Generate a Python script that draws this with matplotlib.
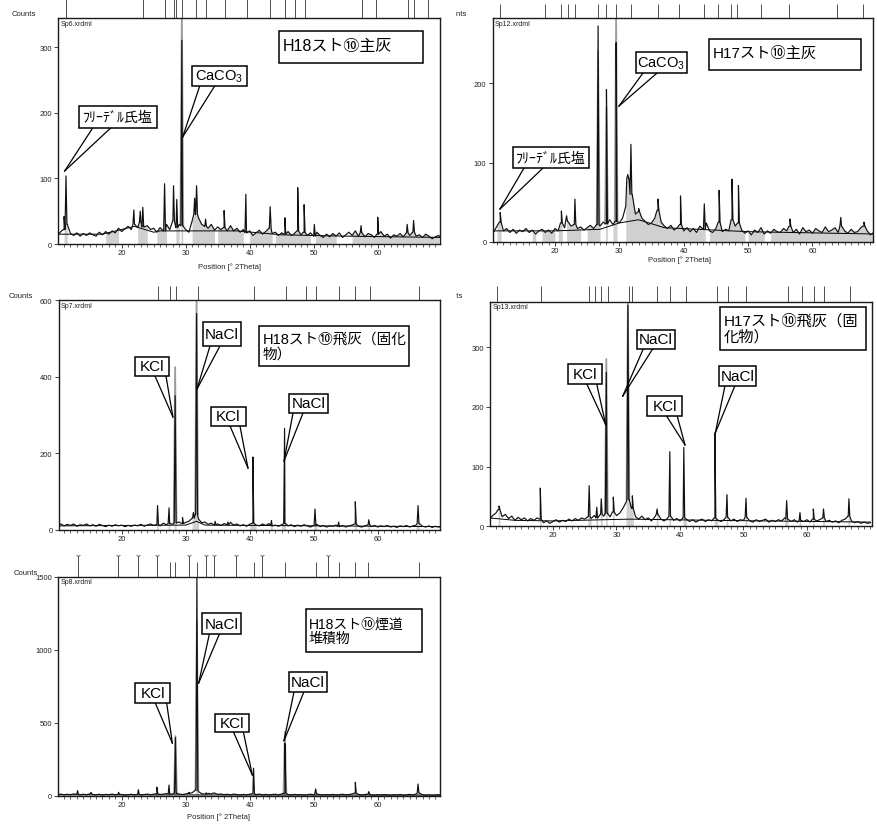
import numpy as np
import matplotlib
matplotlib.use("Agg")
import matplotlib.pyplot as plt
from matplotlib.patches import Rectangle
from matplotlib.ticker import FixedLocator, MultipleLocator
from matplotlib.transforms import Bbox

plt.rcParams["font.family"] = ["Liberation Sans", "Noto Sans CJK JP", "DejaVu Sans"]
plt.rcParams["mathtext.fontset"] = "custom"
plt.rcParams["mathtext.rm"] = "Liberation Sans"
plt.rcParams["mathtext.it"] = "Liberation Sans:italic"

# 2theta sampling of the background counts (0.5 deg steps, 10..70)
GRID = np.arange(10.0, 70.01, 0.5)

# ---------------- Sp6 : H18 main ash ----------------
P1_BG = [14, 19, 22, 30, 16, 13, 17, 12, 16, 13,
         17, 14, 12, 18, 14, 19, 15, 20, 17, 24,
         19, 23, 27, 22, 30, 25, 33, 26, 28, 22,
         24, 18, 25, 20, 30, 22, 35, 25, 30, 28,
         22, 18, 35, 45, 40, 30, 27, 24, 30, 21,
         26, 22, 25, 20, 28, 20, 24, 18, 22, 17,
         20, 13, 17, 21, 15, 19, 24, 16, 18, 13,
         17, 15, 19, 13, 16, 20, 14, 18, 13, 17,
         12, 18, 13, 10, 15, 11, 16, 12, 17, 10,
         14, 18, 13, 20, 12, 17, 11, 16, 14, 10,
         15, 19, 12, 15, 9, 14, 12, 16, 11, 17,
         13, 18, 12, 14, 10, 15, 12, 8, 11, 13,
         9]
P1_PEAK_POS = [11.0, 11.3, 21.9, 22.9, 23.3, 26.7, 28.1, 28.6, 29.4, 31.4, 31.7,
               33.1, 36.0, 39.4, 43.2, 45.5, 47.5, 48.5, 50.1, 57.4, 60.0, 64.6, 65.6]
P1_PEAK_CNT = [42, 104, 52, 50, 56, 92, 89, 68, 311, 70, 89,
               38, 51, 76, 57, 40, 86, 60, 30, 28, 41, 30, 36]
P1_FIT_POS = [29.4]
P1_FIT_CNT = [360]
P1_FILL_LO = [11.0, 16.2, 17.4, 22.3, 25.1, 28.4, 29.2, 30.9, 35.0, 39.9, 43.8, 50.2, 55.8]
P1_FILL_HI = [11.7, 16.7, 19.8, 24.3, 27.0, 29.0, 29.7, 34.8, 39.1, 43.7, 49.5, 53.5, 69.8]
P1_BASE_X = [10, 17, 22, 25, 26, 38, 45, 55, 70]
P1_BASE_Y = [15, 15, 27, 18, 20, 20, 14, 12, 10]
P1_STICKS = [11.3, 23.3, 26.8, 28.2, 28.5, 29.5, 31.6, 33.1, 36.1, 39.6, 43.2,
             45.5, 47.1, 48.6, 57.5, 59.8, 64.7, 65.6, 67.9]

# ---------------- Sp12 : H17 main ash ----------------
P2_BG = [16, 13, 20, 25, 14, 17, 12, 16, 11, 15,
         13, 17, 12, 15, 10, 14, 16, 12, 15, 11,
         17, 14, 24, 18, 26, 20, 22, 17, 19, 15,
         18, 21, 17, 22, 20, 25, 23, 28, 22, 26,
         24, 30, 45, 80, 60, 35, 38, 30, 26, 22,
         24, 30, 40, 25, 20, 17, 21, 15, 18, 22,
         14, 18, 13, 17, 12, 20, 16, 24, 14, 12,
         17, 25, 13, 16, 14, 28, 20, 24, 15, 11,
         14, 9, 15, 12, 18, 10, 14, 11, 16, 13,
         12, 17, 14, 20, 12, 16, 10, 18, 13, 15,
         11, 17, 14, 12, 19, 13, 15, 18, 12, 20,
         14, 11, 16, 12, 13, 18, 20, 14, 9, 12,
         10]
P2_PEAK_POS = [11.5, 21.0, 21.8, 23.1, 26.7, 28.0, 29.5, 31.3, 31.8, 33.0, 36.0,
               39.5, 43.2, 45.5, 47.5, 48.5, 56.5, 64.4, 68.0]
P2_PEAK_CNT = [37, 39, 33, 54, 272, 192, 251, 85, 123, 42, 54,
               58, 48, 65, 79, 71, 29, 31, 25]
P2_FIT_POS = [26.7, 28.0, 29.5]
P2_FIT_CNT = [240, 170, 285]
P2_FILL_LO = [10.9, 16.2, 17.9, 20.5, 21.7, 25.0, 27.6, 29.0, 30.6, 43.6, 49.9, 53.4]
P2_FILL_HI = [11.7, 17.2, 20.0, 21.4, 24.3, 27.0, 28.3, 29.7, 43.4, 49.5, 52.9, 69.5]
P2_BASE_X = [10, 20, 27, 30, 33, 37, 50, 70]
P2_BASE_Y = [14, 14, 16, 24, 28, 18, 13, 10]
P2_STICKS = [11.45, 18.4, 21.0, 22.0, 23.1, 26.7, 28.0, 29.5, 31.8, 36.0, 39.3,
             43.1, 45.3, 47.4, 48.3, 52.0, 56.3, 63.8, 67.9]

# ---------------- Sp7 : H18 fly ash (solidified) ----------------
P3_BG = [12, 15, 10, 14, 11, 15, 9, 13, 11, 15,
         10, 13, 9, 14, 11, 8, 12, 9, 13, 10,
         12, 8, 11, 9, 12, 10, 14, 9, 12, 15,
         11, 14, 10, 17, 13, 16, 14, 18, 20, 16,
         19, 22, 30, 40, 28, 18, 20, 14, 17, 12,
         15, 11, 16, 13, 19, 12, 15, 10, 13, 9,
         14, 17, 12, 10, 15, 11, 16, 10, 12, 9,
         13, 16, 10, 13, 8, 12, 9, 13, 10, 7,
         11, 14, 8, 11, 7, 10, 9, 12, 8, 11,
         7, 10, 12, 15, 9, 7, 10, 13, 8, 11,
         7, 10, 8, 11, 7, 9, 6, 10, 8, 11,
         7, 10, 12, 16, 9, 7, 10, 6, 9, 7,
         8]
P3_PEAK_POS = [25.6, 27.4, 28.35, 29.5, 31.2, 31.7, 34.6, 36.6, 40.5, 43.4,
               45.45, 50.2, 53.9, 56.5, 58.6, 66.3]
P3_PEAK_CNT = [63, 57, 350, 32, 45, 565, 22, 20, 190, 24,
               265, 54, 20, 73, 26, 63]
P3_FIT_POS = [28.35, 31.7]
P3_FIT_CNT = [425, 610]
P3_FILL_LO = [25.3, 27.2, 28.1, 30.9, 37.2, 39.9, 43.2, 45.0, 49.9, 56.1, 58.3, 65.8]
P3_FILL_HI = [25.9, 27.7, 28.7, 32.3, 37.6, 41.0, 43.7, 45.9, 50.5, 56.9, 58.9, 66.8]
P3_BASE_X = [10, 30, 31.7, 33, 70]
P3_BASE_Y = [10, 12, 22, 12, 8]
P3_STICKS = [25.6, 27.6, 28.5, 31.9, 40.7, 45.7, 48.75, 50.3, 54.0, 56.5, 58.8, 66.4]

# ---------------- Sp13 : H17 fly ash (solidified) ----------------
P4_BG = [12, 18, 22, 28, 16, 20, 13, 17, 10, 15,
         11, 14, 9, 13, 10, 14, 12, 6, 9, 5,
         8, 11, 7, 10, 8, 12, 9, 13, 10, 14,
         12, 16, 13, 18, 14, 20, 17, 22, 16, 24,
         18, 22, 30, 40, 45, 30, 16, 12, 17, 11,
         14, 9, 15, 20, 12, 9, 13, 17, 10, 13,
         9, 14, 12, 8, 11, 7, 10, 12, 8, 11,
         9, 14, 10, 8, 12, 15, 9, 12, 8, 11,
         10, 15, 9, 7, 11, 8, 10, 12, 7, 10,
         8, 11, 9, 14, 12, 8, 11, 7, 10, 8,
         11, 7, 12, 9, 11, 14, 8, 10, 7, 9,
         6, 10, 12, 17, 9, 6, 8, 5, 7, 5,
         6]
P4_PEAK_POS = [11.5, 18.0, 25.7, 26.9, 27.6, 28.4, 29.5, 31.8, 32.5, 36.4,
               38.4, 40.6, 45.5, 47.4, 50.4, 56.8, 58.9, 61.0, 62.6, 66.6]
P4_PEAK_CNT = [34, 64, 68, 32, 46, 258, 49, 370, 51, 29,
               125, 132, 156, 53, 47, 43, 23, 29, 29, 46]
P4_FIT_POS = [28.4, 31.8]
P4_FIT_CNT = [280, 380]
P4_FILL_LO = [11.2, 17.7, 25.4, 26.6, 27.3, 28.1, 29.2, 31.3, 36.1, 38.1,
              40.4, 45.2, 47.1, 50.1, 53.6, 56.4, 58.6, 60.8, 62.3, 66.2]
P4_FILL_HI = [11.9, 18.3, 26.0, 27.1, 27.9, 28.9, 29.8, 32.9, 36.7, 38.7,
              41.1, 46.0, 47.7, 50.7, 54.1, 57.2, 59.2, 61.3, 62.9, 66.9]
P4_BASE_X = [10, 14, 20, 32, 45, 70]
P4_BASE_Y = [14, 10, 9, 12, 10, 7]
P4_STICKS = [11.2, 18.1, 25.7, 26.6, 27.5, 28.6, 31.9, 32.5, 36.4, 38.5, 40.9,
             45.8, 47.5, 50.4, 57.0, 59.2, 61.1, 62.7, 66.7]

# ---------------- Sp8 : H18 flue deposit ----------------
P5_BG = [10, 13, 8, 12, 9, 14, 11, 8, 12, 9,
         15, 10, 8, 12, 7, 11, 9, 13, 8, 12,
         10, 6, 9, 12, 8, 11, 7, 10, 13, 9,
         12, 15, 10, 13, 16, 12, 15, 19, 13, 10,
         14, 18, 22, 40, 30, 16, 12, 18, 14, 20,
         11, 14, 9, 12, 8, 13, 10, 7, 11, 8,
         12, 16, 10, 13, 8, 11, 7, 10, 12, 8,
         14, 20, 10, 7, 11, 8, 10, 6, 9, 12,
         8, 14, 9, 7, 10, 8, 11, 7, 9, 12,
         8, 10, 14, 20, 11, 7, 10, 13, 8, 6,
         9, 7, 10, 8, 6, 9, 7, 10, 6, 8,
         11, 7, 14, 20, 9, 6, 8, 5, 7, 9,
         6]
P5_PEAK_POS = [13.1, 15.2, 19.5, 22.6, 25.5, 27.4, 28.4, 30.5, 31.75, 33.2,
               34.4, 40.6, 45.5, 50.3, 56.5, 58.6, 66.3]
P5_PEAK_CNT = [37, 25, 25, 43, 60, 75, 400, 25, 1500, 22,
               20, 190, 360, 48, 94, 30, 82]
P5_FIT_POS = [28.4, 31.75, 45.5]
P5_FIT_CNT = [410, 1200, 440]
P5_FILL_LO = [25.3, 27.2, 28.1, 31.2, 40.3, 45.0, 50.0, 56.2, 58.4, 65.9]
P5_FILL_HI = [25.8, 27.6, 28.8, 32.4, 41.0, 46.0, 50.6, 56.9, 58.9, 66.8]
P5_BASE_X = [10, 70]
P5_BASE_Y = [8, 6]
P5_STICKS = [13.1, 19.5, 22.6, 25.5, 27.5, 28.4, 30.5, 31.8, 33.2, 34.4, 37.8,
             40.6, 41.9, 45.5, 50.3, 52.2, 53.9, 56.5, 58.5, 66.4]
P5_STICKS_MARKED = [13.1, 19.5, 22.6, 25.5, 30.5, 33.2, 34.4, 37.8, 41.9, 52.2]


def build_trace(bg, pos, cnt, hw=0.14):
    """Background samples plus a sharp spike for every listed reflection."""
    bg = np.asarray(bg, dtype=float)
    assert len(bg) == len(GRID)
    xs = list(GRID)
    ys = list(bg)
    for p, c in zip(pos, cnt):
        b = bg[np.argmin(np.abs(GRID - p))]
        xs += [p - hw, p, p + hw]
        ys += [b, c, b]
    order = np.argsort(xs, kind="stable")
    return np.asarray(xs)[order], np.asarray(ys)[order]


def draw_pattern(ax, bg, pos, cnt, fit_pos, fit_cnt, fill_lo, fill_hi,
                 base_x, base_y, sticks, stick_h, xlim, ylim, yticks, name):
    x, y = build_trace(bg, pos, cnt)
    bg = np.asarray(bg, dtype=float)

    for lo, hi in zip(fill_lo, fill_hi):
        m = (x >= lo) & (x <= hi)
        ax.fill_between(x, 0, y, where=m, color="#d0d0d0", lw=0, zorder=1)

    for p, c in zip(fit_pos, fit_cnt):
        b = bg[np.argmin(np.abs(GRID - p))]
        ax.plot([p - 0.22, p, p + 0.22], [b, c, b], color="#9d9d9d", lw=1.3, zorder=2)

    ax.plot(base_x, base_y, color="black", lw=0.7, zorder=3)
    ax.plot(x, y, color="#111111", lw=0.85, zorder=4)

    ax.set_xlim(*xlim)
    ax.set_ylim(*ylim)
    ax.xaxis.set_major_locator(FixedLocator([20, 30, 40, 50, 60]))
    ax.xaxis.set_minor_locator(MultipleLocator(1))
    ax.set_yticks(yticks)
    ax.tick_params(axis="x", which="major", length=3, width=0.6, pad=0.6,
                   labelsize=5.5, colors="#222222")
    ax.tick_params(axis="x", which="minor", length=2, width=0.5, colors="#222222")
    ax.tick_params(axis="y", length=3, width=0.6, pad=1.5, labelsize=5.5,
                   colors="#222222")
    for s in ax.spines.values():
        s.set_linewidth(1.0)
        s.set_color("#1a1a1a")

    # reference pattern sticks above the frame
    ax.vlines(sticks, 1.0, 1.0 + stick_h, transform=ax.get_xaxis_transform(),
              colors="#505050", lw=0.7, clip_on=False)

    ax.text(0.006, 0.992, name, transform=ax.transAxes, ha="left", va="top",
            fontsize=5, color="#222222")


def callout(ax, label, box, base=None, tip=None, size=11, title=False):
    x0, y0, x1, y1 = box
    ax.add_patch(Rectangle((x0, y0), x1 - x0, y1 - y0, facecolor="white",
                           edgecolor="black", lw=1.1, zorder=7))
    if base is not None:
        for bx in base:
            ax.plot([bx, tip[0]], [y0, tip[1]], color="black", lw=0.9, zorder=6)
    if title:
        yc = y0 + (0.56 if "\n" not in label else 0.5) * (y1 - y0)
        ax.text(x0 + 0.025 * (x1 - x0), yc, label, ha="left", va="center",
                fontsize=size, linespacing=1.1, zorder=8)
    else:
        ax.text((x0 + x1) / 2, (y0 + y1) / 2, label, ha="center", va="center",
                fontsize=size, zorder=8)


fig = plt.figure(figsize=(8.77, 8.28), dpi=100)
W, H = 877.0, 828.0


def add_axes(left, top, right, bottom):
    return fig.add_axes([left / W, 1 - bottom / H, (right - left) / W, (bottom - top) / H])


ax1 = add_axes(58, 19, 440, 245)
ax2 = add_axes(492.7, 19, 873, 243)
ax3 = add_axes(58.7, 300.7, 440, 530.7)
ax4 = add_axes(490, 302.7, 872, 527.3)
ax5 = add_axes(58, 577.7, 440, 797)

draw_pattern(ax1, P1_BG, P1_PEAK_POS, P1_PEAK_CNT, P1_FIT_POS, P1_FIT_CNT,
             P1_FILL_LO, P1_FILL_HI, P1_BASE_X, P1_BASE_Y, P1_STICKS, 0.084,
             (10.05, 69.73), (0, 345), [0, 100, 200, 300], "Sp6.xrdml")
draw_pattern(ax2, P2_BG, P2_PEAK_POS, P2_PEAK_CNT, P2_FIT_POS, P2_FIT_CNT,
             P2_FILL_LO, P2_FILL_HI, P2_BASE_X, P2_BASE_Y, P2_STICKS, 0.0625,
             (10.33, 69.4), (0, 282), [0, 100, 200], "Sp12.xrdml")
draw_pattern(ax3, P3_BG, P3_PEAK_POS, P3_PEAK_CNT, P3_FIT_POS, P3_FIT_CNT,
             P3_FILL_LO, P3_FILL_HI, P3_BASE_X, P3_BASE_Y, P3_STICKS, 0.061,
             (10.16, 69.73), (0, 601), [0, 200, 400, 600], "Sp7.xrdml")
draw_pattern(ax4, P4_BG, P4_PEAK_POS, P4_PEAK_CNT, P4_FIT_POS, P4_FIT_CNT,
             P4_FILL_LO, P4_FILL_HI, P4_BASE_X, P4_BASE_Y, P4_STICKS, 0.071,
             (10.08, 70.24), (0, 376), [0, 100, 200, 300], "Sp13.xrdml")
draw_pattern(ax5, P5_BG, P5_PEAK_POS, P5_PEAK_CNT, P5_FIT_POS, P5_FIT_CNT,
             P5_FILL_LO, P5_FILL_HI, P5_BASE_X, P5_BASE_Y, P5_STICKS, 0.067,
             (10.05, 69.73), (0, 1502), [0, 500, 1000, 1500], "Sp8.xrdml")

# marked reference lines on the deposit pattern
ax5.vlines(P5_STICKS_MARKED, 1.0, 1.094, transform=ax5.get_xaxis_transform(),
           colors="#505050", lw=0.7, clip_on=False)
ax5.plot(P5_STICKS_MARKED, [1.094] * len(P5_STICKS_MARKED), ls="none", marker="1",
         ms=3.5, mew=0.6, color="#505050", transform=ax5.get_xaxis_transform(),
         clip_on=False)

# axis captions
lab = dict(fontsize=5.5, color="#222222", ha="center", va="center")
ax1.text(-0.089, 1.022, "Counts", transform=ax1.transAxes, **lab)
ax3.text(-0.099, 1.020, "Counts", transform=ax3.transAxes, **lab)
ax5.text(-0.084, 1.021, "Counts", transform=ax5.transAxes, **lab)
ax1.text(0.45, -0.1, "Position [° 2Theta]", transform=ax1.transAxes, **lab)
ax2.text(0.4925, -0.078, "Position [° 2Theta]", transform=ax2.transAxes, **lab)
ax5.text(0.421, -0.094, "Position [° 2Theta]", transform=ax5.transAxes, **lab)

# right-hand captions are partly hidden behind the left column
cut = Bbox([[455.5, 0], [W, H]])
fig.text(467 / W, 1 - 15 / H, "Counts", fontsize=5.5, color="#222222",
         ha="right", va="center", clip_on=True, clip_box=cut)
fig.text(463 / W, 1 - 296 / H, "Counts", fontsize=5.5, color="#222222",
         ha="right", va="center", clip_on=True, clip_box=cut)

# sample titles and phase call-outs
callout(ax1, "H18スト⑩主灰", (44.53, 276.3, 67.03, 325.2), size=11.5, title=True)
callout(ax1, "CaCO$_3$", (30.94, 241.2, 39.53, 271.8), (32.19, 34.53), (29.53, 163.4), size=10.5)
callout(ax1, "ﾌﾘｰﾃﾞﾙ氏塩", (13.28, 177.1, 25.47, 210.7), (15.47, 18.28), (11.09, 111.5), size=10)

callout(ax2, "H17スト⑩主灰", (43.87, 216.4, 67.47, 255.3), size=11, title=True)
callout(ax2, "CaCO$_3$", (32.58, 212.6, 40.50, 239.0), (33.66, 35.84), (29.94, 171.1), size=10.5)
callout(ax2, "ﾌﾘｰﾃﾞﾙ氏塩", (13.43, 93.1, 25.28, 119.5), (15.19, 18.14), (11.46, 41.5), size=10)

callout(ax3, "H18スト⑩飛灰（固化\n物）", (41.45, 427.97, 64.89, 532.5), size=10.5, title=True)
callout(ax3, "NaCl", (32.70, 480.2, 38.64, 542.9), (33.80, 35.36), (31.77, 367.8))
callout(ax3, "KCl", (22.08, 401.8, 27.39, 451.5), (25.20, 26.92), (28.0, 294.6))
callout(ax3, "KCl", (33.95, 271.1, 39.42, 320.8), (36.92, 38.48), (39.73, 161.3))
callout(ax3, "NaCl", (46.14, 305.1, 52.23, 354.8), (46.77, 48.33), (45.36, 179.6))

callout(ax4, "H17スト⑩飛灰（固\n化物）", (46.30, 295.8, 69.29, 366.8), size=11, title=True)
callout(ax4, "NaCl", (33.18, 297.0, 39.26, 329.3), (34.22, 35.70), (30.98, 217.8))
callout(ax4, "KCl", (22.31, 238.5, 27.67, 271.9), (25.31, 26.88), (28.30, 170.2))
callout(ax4, "KCl", (34.85, 184.3, 40.31, 218.8), (37.91, 39.57), (40.79, 136.2))
callout(ax4, "NaCl", (46.19, 235.5, 51.97, 268.0), (47.09, 48.66), (45.56, 156.3))

callout(ax5, "H18スト⑩煙道\n堆積物", (48.80, 984.2, 66.88, 1280.8), size=10, title=True)
callout(ax5, "NaCl", (32.55, 1107.5, 38.59, 1253.4), (33.69, 35.25), (32.03, 774))
callout(ax5, "KCl", (22.13, 637, 27.55, 774), (25.25, 27.03), (27.91, 363))
callout(ax5, "KCl", (34.53, 440.4, 39.84, 561.6), (37.44, 39.0), (40.41, 143.8))
callout(ax5, "NaCl", (46.09, 714.4, 52.03, 847.3), (46.92, 48.48), (45.36, 378.8))

fig.savefig("out.png", dpi=100)
